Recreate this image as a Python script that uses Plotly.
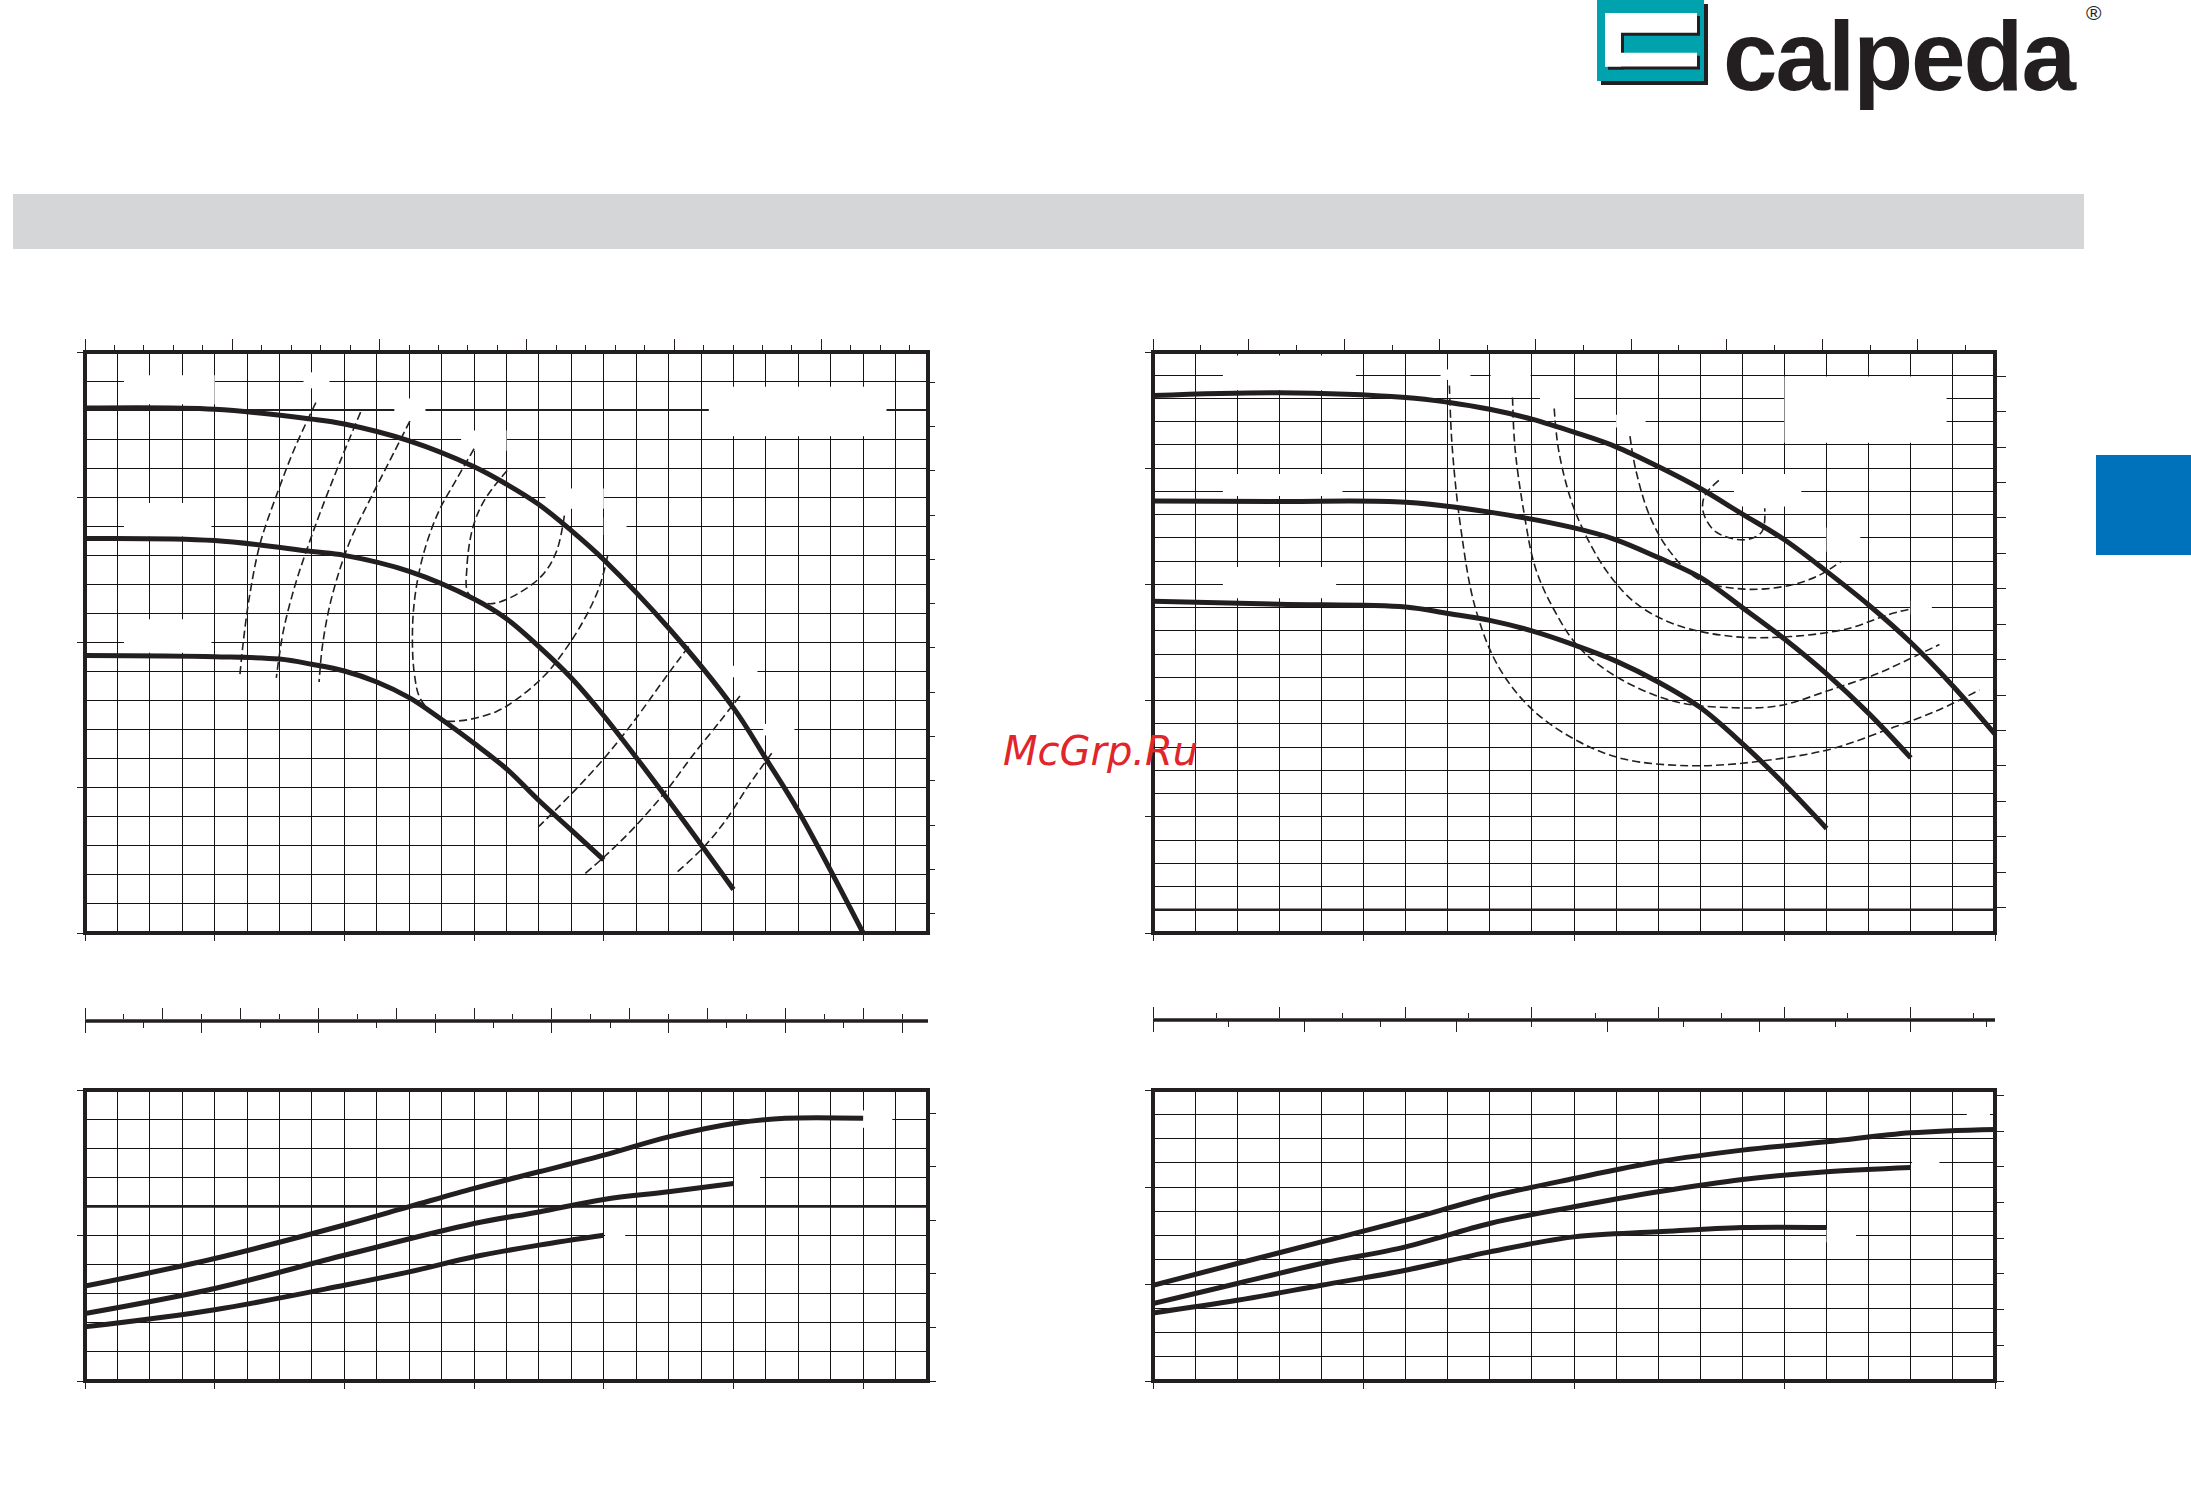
import plotly.graph_objects as go

W, H = 2191, 1498
INK = "#231f20"

# ---------------- data ----------------
# Left performance diagram: Q [m3/h], H [m]
qa_1 = [0, 2.0, 3.5, 4.0, 5.0, 6.0, 6.5, 7.0, 7.5, 8.0, 9.0, 10.0, 10.5, 11.0, 12.0]
ha_1 = [28.07, 28.03, 27.69, 27.52, 26.94, 26.05, 25.45, 24.75, 23.85, 22.85, 20.5, 17.75, 16.0, 14.2, 10.0]
qa_2 = [0, 2.0, 3.5, 4.0, 5.0, 6.0, 6.5, 7.0, 7.5, 8.0, 9.0, 10.0]
ha_2 = [23.58, 23.51, 23.13, 23.0, 22.45, 21.5, 20.82, 19.86, 18.78, 17.48, 14.56, 11.5]
qa_3 = [0, 2.0, 3.0, 3.5, 4.0, 4.5, 5.0, 5.5, 6.0, 6.5, 7.0, 7.5, 8.0]
ha_3 = [19.55, 19.51, 19.43, 19.25, 19.02, 18.64, 18.1, 17.35, 16.53, 15.65, 14.56, 13.54, 12.52]

# left diagram: efficiency iso-lines (dashed)
eta_a_q = [
    [3.56, 3.23, 2.97, 2.70, 2.53, 2.44, 2.39],
    [4.25, 3.94, 3.63, 3.41, 3.23, 3.06, 2.95],
    [5.01, 4.70, 4.39, 4.12, 3.94, 3.77, 3.66, 3.61],
    [6.00, 5.72, 5.45, 5.23, 5.10, 5.05, 5.08, 5.18, 5.49, 5.80, 6.34, 6.69, 7.05, 7.31, 7.67, 7.93, 8.06],
    [6.51, 6.16, 5.98, 5.89, 5.91, 6.16, 6.34, 6.69, 7.05, 7.27, 7.40],
    [9.31, 8.99, 8.46, 8.02, 7.58, 7.00],
    [10.10, 9.79, 9.35, 8.99, 8.46, 8.02, 7.71],
    [10.59, 10.24, 9.88, 9.53, 9.10],
]
eta_a_h = [
    [28.26, 26.67, 25.17, 23.40, 21.50, 20.00, 18.91],
    [27.93, 26.26, 24.49, 23.13, 21.90, 20.41, 18.78],
    [27.62, 26.26, 24.90, 23.67, 22.59, 21.23, 19.86, 18.64],
    [26.67, 25.58, 24.49, 23.13, 21.77, 20.41, 18.91, 18.03, 17.35, 17.31, 17.62, 18.10, 18.78, 19.46, 20.68, 21.90, 22.99],
    [25.92, 24.90, 23.95, 22.59, 21.70, 21.36, 21.36, 21.70, 22.31, 23.13, 24.49],
    [19.86, 18.91, 17.28, 16.05, 14.97, 13.67],
    [18.16, 17.28, 16.05, 14.97, 13.61, 12.65, 12.04],
    [16.19, 15.10, 13.88, 12.93, 12.04],
]

# Right performance diagram: Q [m3/h], H [m]
qb_1 = [0, 3, 6, 7, 8, 9, 10, 11, 12, 13, 14, 15, 16, 17, 18, 19, 20]
hb_1 = [56.26, 56.50, 56.09, 55.68, 55.07, 54.22, 53.10, 51.84, 50.14, 48.25, 46.05, 43.84, 41.12, 38.23, 35.0, 31.26, 27.11]
qb_2 = [0, 3, 6, 8, 10, 11, 12, 13, 14, 15, 16, 17, 18]
hb_2 = [47.18, 47.14, 47.07, 46.22, 44.86, 43.84, 42.31, 40.6, 38.0, 35.3, 32.3, 28.9, 25.07]
qb_3 = [0, 3, 6, 7, 8, 9, 10, 11, 12, 13, 14, 15, 16]
hb_3 = [38.54, 38.30, 38.06, 37.5, 36.9, 36.0, 34.8, 33.4, 31.6, 29.4, 26.3, 22.8, 19.0]

eta_b_q = [
    [7.04, 7.11, 7.31, 7.65, 8.20, 9.01, 10.10, 11.19, 12.83, 14.46, 16.09, 17.45, 18.68, 19.63],
    [8.54, 8.60, 8.81, 9.08, 9.49, 10.10, 11.06, 12.42, 13.78, 14.87, 16.09, 17.18, 18.0, 18.68],
    [9.53, 9.63, 9.90, 10.24, 10.78, 11.46, 12.42, 13.78, 15.14, 16.50, 17.45, 18.0],
    [11.33, 11.46, 11.80, 12.28, 12.96, 14.05, 15.14, 15.82, 16.34],
    [13.44, 13.10, 13.07, 13.37, 14.05, 14.46, 14.53],
]
eta_b_h = [
    [57.11, 51.67, 44.86, 38.06, 32.96, 29.22, 26.50, 24.97, 24.39, 24.80, 25.82, 27.52, 29.22, 30.92],
    [56.09, 51.67, 46.22, 41.46, 38.06, 34.66, 31.94, 29.90, 29.39, 29.56, 30.92, 32.28, 33.64, 34.83],
    [55.14, 51.67, 47.59, 44.52, 41.12, 38.40, 36.53, 35.51, 35.51, 36.19, 37.38, 37.89],
    [52.76, 49.97, 45.88, 42.82, 40.44, 39.59, 39.93, 40.78, 41.97],
    [48.95, 47.59, 46.22, 44.52, 43.84, 44.52, 46.56],
]

# Power diagrams: Q [m3/h], P [kW]
qc_1 = [0, 2, 4, 5, 6, 7, 8, 9, 10, 10.8, 12]
pc_1 = [0.326, 0.421, 0.536, 0.599, 0.662, 0.719, 0.776, 0.839, 0.885, 0.903, 0.903]
qc_2 = [0, 2, 4, 6, 7, 8, 9, 10]
pc_2 = [0.232, 0.318, 0.432, 0.541, 0.581, 0.624, 0.650, 0.679]
qc_3 = [0, 2, 4, 5, 6, 7, 8]
pc_3 = [0.186, 0.245, 0.329, 0.375, 0.427, 0.467, 0.501]

qd_1 = [0, 2, 4, 6, 8, 10, 12, 14, 16, 18, 20]
pd_1 = [0.987, 1.211, 1.434, 1.658, 1.899, 2.088, 2.260, 2.380, 2.466, 2.559, 2.594]
qd_2 = [0, 2, 4, 6, 8, 10, 12, 14, 16, 18]
pd_2 = [0.798, 1.005, 1.211, 1.383, 1.624, 1.796, 1.951, 2.078, 2.157, 2.202]
qd_3 = [0, 2, 4, 6, 8, 10, 12, 14, 16]
pd_3 = [0.702, 0.832, 0.987, 1.142, 1.331, 1.486, 1.538, 1.582, 1.582]

# axis ranges (main units) and unit conversions for secondary scales
q_range_left, q_range_right = [0, 13], [0, 20]
h_range_left, h_range_right = [10, 30], [10, 60]
p_range_left, p_range_right = [0, 1.0], [0, 3.0]
M3H_TO_USGPM = 4.40287
M_TO_FT = 3.28084
KW_TO_CV = 1 / 0.7355

# white blanking boxes where the original labels were (data units: q0, q1, v0, v1)
mask_a = [(0.6, 2.0, 28.2, 29.2), (0.6, 1.95, 23.65, 24.8), (0.6, 1.95, 19.65, 20.8),
          (9.62, 12.36, 27.1, 28.8), (3.37, 3.77, 28.75, 29.3), (4.77, 5.25, 27.6, 28.4),
          (5.8, 6.5, 26.6, 27.3), (7.1, 8.0, 24.6, 25.3), (8.0, 8.35, 23.7, 24.3),
          (9.53, 10.37, 18.8, 19.2), (10.46, 10.94, 16.8, 17.2)]
mask_b = [(1.66, 4.82, 56.7, 59.7), (1.66, 4.5, 47.6, 49.5), (1.66, 4.35, 38.8, 41.5),
          (15.0, 18.85, 52.2, 57.9), (6.83, 7.54, 57.6, 58.5), (8.02, 8.97, 56.1, 58.5),
          (9.19, 10.0, 55.6, 56.4), (11.0, 11.7, 53.5, 54.6), (13.8, 15.4, 46.7, 49.5),
          (16.0, 16.8, 42.8, 44.9), (18.0, 18.5, 37.4, 38.6)]
mask_c = [(11.99, 12.45, 0.87, 0.93), (10.01, 10.41, 0.67, 0.73), (8.02, 8.33, 0.47, 0.53)]
mask_d = [(19.33, 19.88, 2.68, 2.82), (18.03, 18.68, 2.18, 2.32), (16.0, 16.7, 1.43, 1.57)]

GRID = "#141213"
GW = 1


# ---------------- helpers ----------------
def xd(a, b):
    return [a / W, b / W]


def yd(top, bottom):
    return [1 - bottom / H, 1 - top / H]


def main_axis(dom, rng, anchor, tick0, dtick, minor_dtick, ticklen):
    return dict(domain=dom, range=rng, anchor=anchor, tickmode="linear", tick0=tick0, dtick=dtick,
                ticks="outside", ticklen=ticklen, tickwidth=1, tickcolor=INK,
                showticklabels=False, showgrid=True, gridcolor=GRID, gridwidth=GW,
                zeroline=False, showline=False, fixedrange=True,
                minor=dict(tick0=tick0, dtick=minor_dtick, showgrid=True, gridcolor=GRID,
                           gridwidth=GW, ticks=""))


def sec_axis(overlay, anchor, side, rng, tick0, dtick, ticklen, minor_dtick=None, minor_len=None):
    d = dict(overlaying=overlay, anchor=anchor, side=side, range=rng, tickmode="linear",
             tick0=tick0, dtick=dtick, ticks="outside", ticklen=ticklen, tickwidth=1,
             tickcolor=INK, showticklabels=False, showgrid=False, zeroline=False,
             showline=False, fixedrange=True)
    if minor_dtick:
        d["minor"] = dict(tick0=tick0, dtick=minor_dtick, ticks="outside", ticklen=minor_len,
                          tickwidth=1, tickcolor=INK, showgrid=False)
    return d


fig = go.Figure()


def solid(q, v, xa, ya):
    fig.add_trace(go.Scatter(x=q, y=v, xaxis=xa, yaxis=ya, mode="lines",
                             line=dict(color=INK, width=5, shape="spline", smoothing=1.0),
                             showlegend=False, hoverinfo="skip"))


def dashed(q, v, xa, ya):
    fig.add_trace(go.Scatter(x=q, y=v, xaxis=xa, yaxis=ya, mode="lines",
                             line=dict(color=INK, width=1.6, dash="8px,4px", shape="spline", smoothing=1.0),
                             showlegend=False, hoverinfo="skip"))


def empty(xa, ya):
    fig.add_trace(go.Scatter(x=[], y=[], xaxis=xa, yaxis=ya, showlegend=False, hoverinfo="skip"))


# chart A (top-left)
for q, h in zip(eta_a_q, eta_a_h):
    dashed(q, h, "x", "y")
for q, h in [(qa_1, ha_1), (qa_2, ha_2), (qa_3, ha_3)]:
    solid(q, h, "x", "y")
empty("x2", "y")
empty("x", "y2")

# chart B (top-right)
for q, h in zip(eta_b_q, eta_b_h):
    dashed(q, h, "x3", "y3")
for q, h in [(qb_1, hb_1), (qb_2, hb_2), (qb_3, hb_3)]:
    solid(q, h, "x3", "y3")
empty("x4", "y3")
empty("x3", "y4")

# chart C (bottom-left)
for q, p in [(qc_1, pc_1), (qc_2, pc_2), (qc_3, pc_3)]:
    solid(q, p, "x5", "y5")
empty("x5", "y6")

# chart D (bottom-right)
for q, p in [(qd_1, pd_1), (qd_2, pd_2), (qd_3, pd_3)]:
    solid(q, p, "x6", "y7")
empty("x6", "y8")

# middle flow scales
empty("x7", "y9")
empty("x8", "y9")
empty("x9", "y10")
empty("x10", "y10")

XL, XR = xd(85, 928), xd(1153, 1995)
YT = yd(352, 933)
YB = yd(1090, 1381)

layout = dict(
    width=W, height=H, margin=dict(l=0, r=0, t=0, b=0),
    paper_bgcolor="white", plot_bgcolor="white", showlegend=False, hovermode=False,
    # A
    xaxis=main_axis(XL, q_range_left, "y", 0, 2, 0.5, 7),
    yaxis=main_axis(YT, h_range_left, "x", 10, 5, 1, 7),
    xaxis2=sec_axis("x", "y", "top", [q * M3H_TO_USGPM for q in q_range_left], 0, 10, 12, 2, 6),
    yaxis2=sec_axis("y", "x", "right", [h * M_TO_FT for h in h_range_left], 0, 5, 6),
    # B
    xaxis3=main_axis(XR, q_range_right, "y3", 0, 5, 1, 7),
    yaxis3=main_axis(YT, h_range_right, "x3", 10, 10, 2, 7),
    xaxis4=sec_axis("x3", "y3", "top", [q * M3H_TO_USGPM for q in q_range_right], 0, 10, 12, 5, 6),
    yaxis4=sec_axis("y3", "x3", "right", [h * M_TO_FT for h in h_range_right], 0, 10, 10),
    # C
    xaxis5=main_axis(XL, q_range_left, "y5", 0, 2, 0.5, 7),
    yaxis5=main_axis(YB, p_range_left, "x5", 0, 0.5, 0.1, 7),
    yaxis6=sec_axis("y5", "x5", "right", [p * KW_TO_CV for p in p_range_left], 0, 0.25, 7),
    # D
    xaxis6=main_axis(XR, q_range_right, "y7", 0, 5, 1, 7),
    yaxis7=main_axis(YB, p_range_right, "x6", 0, 1, 0.25, 7),
    yaxis8=sec_axis("y7", "x6", "right", [p * KW_TO_CV for p in p_range_right], 0, 0.5, 8),
    # middle scales: l/s below, l/min above
    yaxis9=dict(domain=yd(1020, 1021), range=[0, 1], anchor="x7", visible=False, fixedrange=True),
    xaxis7=dict(domain=XL, range=[q / 3.6 for q in q_range_left], anchor="y9", side="bottom",
                tickmode="linear", tick0=0, dtick=0.5, ticks="outside", ticklen=11, tickwidth=1,
                tickcolor=INK, showticklabels=False, showgrid=False, zeroline=False, showline=False,
                minor=dict(tick0=0, dtick=0.25, ticks="outside", ticklen=6, tickwidth=1,
                           tickcolor=INK, showgrid=False), fixedrange=True),
    xaxis8=sec_axis("x7", "y9", "top", [q / 0.06 for q in q_range_left], 0, 20, 11, 10, 5),
    yaxis10=dict(domain=yd(1019, 1020), range=[0, 1], anchor="x9", visible=False, fixedrange=True),
    xaxis9=dict(domain=XR, range=[q / 3.6 for q in q_range_right], anchor="y10", side="bottom",
                tickmode="linear", tick0=0, dtick=1, ticks="outside", ticklen=11, tickwidth=1,
                tickcolor=INK, showticklabels=False, showgrid=False, zeroline=False, showline=False,
                minor=dict(tick0=0, dtick=0.5, ticks="outside", ticklen=6, tickwidth=1,
                           tickcolor=INK, showgrid=False), fixedrange=True),
    xaxis10=sec_axis("x9", "y10", "top", [q / 0.06 for q in q_range_right], 0, 50, 11, 25, 5),
)
fig.update_layout(**layout)

shapes = []


def prect(x0, y0, x1, y1, color):
    shapes.append(dict(type="rect", xref="paper", yref="paper", x0=x0 / W, x1=x1 / W,
                       y0=1 - y1 / H, y1=1 - y0 / H, fillcolor=color, line=dict(width=0),
                       layer="above"))


# page decoration
prect(13, 194, 2084, 249, "#d5d6d8")
prect(2096, 455, 2191, 555, "#0072bc")
# logo mark
prect(1601, 4, 1708, 85, INK)
prect(1597, 0, 1704, 81, "#00a3ad")
C_BARS = [(1605, 13, 1697, 32.7), (1605, 13, 1621, 66.5), (1605, 52.7, 1697, 66.5)]
for (a, b, c, d) in C_BARS:
    prect(a + 3, b + 3, c + 3, d + 3, INK)
for (a, b, c, d) in C_BARS:
    prect(a, b, c, d, "white")

# heavier grid lines
for xa, ya, rng, val, w in [("x", "y", q_range_left, 28, 2), ("x3", "y3", q_range_right, 12, 2.6),
                            ("x5", "y5", q_range_left, 0.6, 2.6)]:
    shapes.append(dict(type="line", xref=xa, yref=ya, x0=rng[0], x1=rng[1], y0=val, y1=val,
                       line=dict(color=INK, width=w), layer="between"))

# blanked label areas
for xa, ya, masks in [("x", "y", mask_a), ("x3", "y3", mask_b), ("x5", "y5", mask_c), ("x6", "y7", mask_d)]:
    for (q0, q1, v0, v1) in masks:
        shapes.append(dict(type="rect", xref=xa, yref=ya, x0=q0, x1=q1, y0=v0, y1=v1,
                           fillcolor="white", line=dict(width=0), layer="between"))

# frames
for xa, ya in [("x", "y"), ("x3", "y3"), ("x5", "y5"), ("x6", "y7")]:
    shapes.append(dict(type="rect", xref=xa + " domain", yref=ya + " domain", x0=0, x1=1, y0=0, y1=1,
                       line=dict(color=INK, width=4), fillcolor="rgba(0,0,0,0)", layer="above"))

# middle scale bars
for xa, ypx in [("x7", 1021), ("x9", 1020)]:
    shapes.append(dict(type="line", xref=xa + " domain", yref="paper", x0=0, x1=1,
                       y0=1 - ypx / H, y1=1 - ypx / H, line=dict(color=INK, width=3.6), layer="above"))

fig.update_layout(shapes=shapes)

fig.add_annotation(text='<span style="letter-spacing:-2px">calpeda</span>', xref="paper", yref="paper",
                   x=1721 / W, y=1 - 56 / H, xanchor="left", yanchor="middle", showarrow=False,
                   font=dict(family="Liberation Sans, Arial, sans-serif", size=98, color=INK, weight="bold"))
fig.add_annotation(text="®", xref="paper", yref="paper", x=2094 / W, y=1 - 13 / H,
                   xanchor="center", yanchor="middle", showarrow=False,
                   font=dict(family="Liberation Sans, Arial, sans-serif", size=21, color=INK))
fig.add_annotation(text="McGrp.Ru", xref="paper", yref="paper", x=1001 / W, y=1 - 751 / H,
                   xanchor="left", yanchor="middle", showarrow=False,
                   font=dict(family="DejaVu Sans, Verdana, sans-serif", size=40, color="#e0262b",
                             style="italic"))

fig.write_html("out.html", config={"displayModeBar": False, "staticPlot": True},
               post_script="document.body.style.margin='0';")
